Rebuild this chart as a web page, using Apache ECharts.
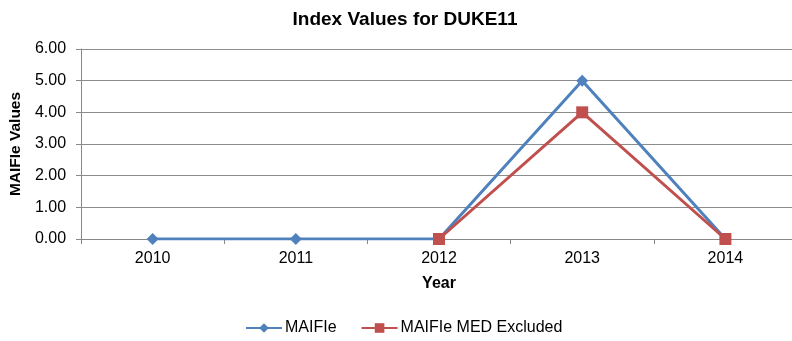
<!DOCTYPE html>
<html>
<head>
<meta charset="utf-8">
<script src="https://cdn.jsdelivr.net/npm/echarts@6/dist/echarts.min.js"></script>
<style>
  html, body { margin: 0; padding: 0; background: #fff; overflow: hidden; }
  /* the plot runs slightly past the right edge of the window, so the canvas is wider */
  #chart { width: 820px; height: 341px; }
</style>
</head>
<body>
<div id="chart"></div>
<script>
const years = ['2010', '2011', '2012', '2013', '2014'];
const maifie = [0, 0, 0, 5, 0];
const maifieMedExcluded = [null, null, 0, 4, 0];
const yTicks = { min: 0, max: 6, interval: 1 };

const font = 'Liberation Sans, Arial, sans-serif';
const chart = echarts.init(document.getElementById('chart'), null, { renderer: 'canvas' });

chart.setOption({
  animation: false,
  backgroundColor: '#ffffff',
  title: {
    text: 'Index Values for DUKE11',
    left: 400, top: 5, textAlign: 'center',
    textStyle: { fontFamily: font, fontSize: 19, fontWeight: 'bold', color: '#000' }
  },
  grid: { left: 77, top: 49, width: 720, height: 190, containLabel: false },
  legend: {
    top: 315, left: 240,
    itemWidth: 36, itemHeight: 12, itemGap: 24,
    textStyle: { fontFamily: font, fontSize: 16, color: '#000', padding: [0, 0, 0, -2] },
    data: ['MAIFIe', 'MAIFIe MED Excluded']
  },
  xAxis: {
    type: 'category',
    data: years,
    boundaryGap: true,
    name: 'Year', nameLocation: 'middle', nameGap: 37,
    nameTextStyle: { fontFamily: font, fontSize: 16, fontWeight: 'bold', color: '#000' },
    axisLine: { lineStyle: { color: '#888', width: 1 } },
    axisTick: { show: true, length: 5, lineStyle: { color: '#888' } },
    axisLabel: { fontFamily: font, fontSize: 16, color: '#000', margin: 12 }
  },
  yAxis: {
    type: 'value',
    min: yTicks.min, max: yTicks.max, interval: yTicks.interval,
    name: 'MAIFIe Values', nameLocation: 'middle', nameGap: 50,
    nameTextStyle: { fontFamily: font, fontSize: 15.5, fontWeight: 'bold', color: '#000' },
    axisLine: { show: true, lineStyle: { color: '#888', width: 1 } },
    axisTick: { show: true, length: 5, lineStyle: { color: '#888' } },
    axisLabel: { fontFamily: font, fontSize: 16, color: '#000', margin: 15,
      formatter: v => v.toFixed(2) },
    splitLine: { show: true, lineStyle: { color: '#8c8c8c', width: 1 } }
  },
  series: [
    {
      name: 'MAIFIe', type: 'line', data: maifie,
      symbol: 'diamond', symbolSize: 12,
      itemStyle: { color: '#4F81BD' },
      lineStyle: { color: '#4F81BD', width: 3 },
      z: 3
    },
    {
      name: 'MAIFIe MED Excluded', type: 'line', data: maifieMedExcluded,
      symbol: 'rect', symbolSize: 12,
      itemStyle: { color: '#C0504D' },
      lineStyle: { color: '#C0504D', width: 3 },
      z: 4
    }
  ]
});
</script>
</body>
</html>
